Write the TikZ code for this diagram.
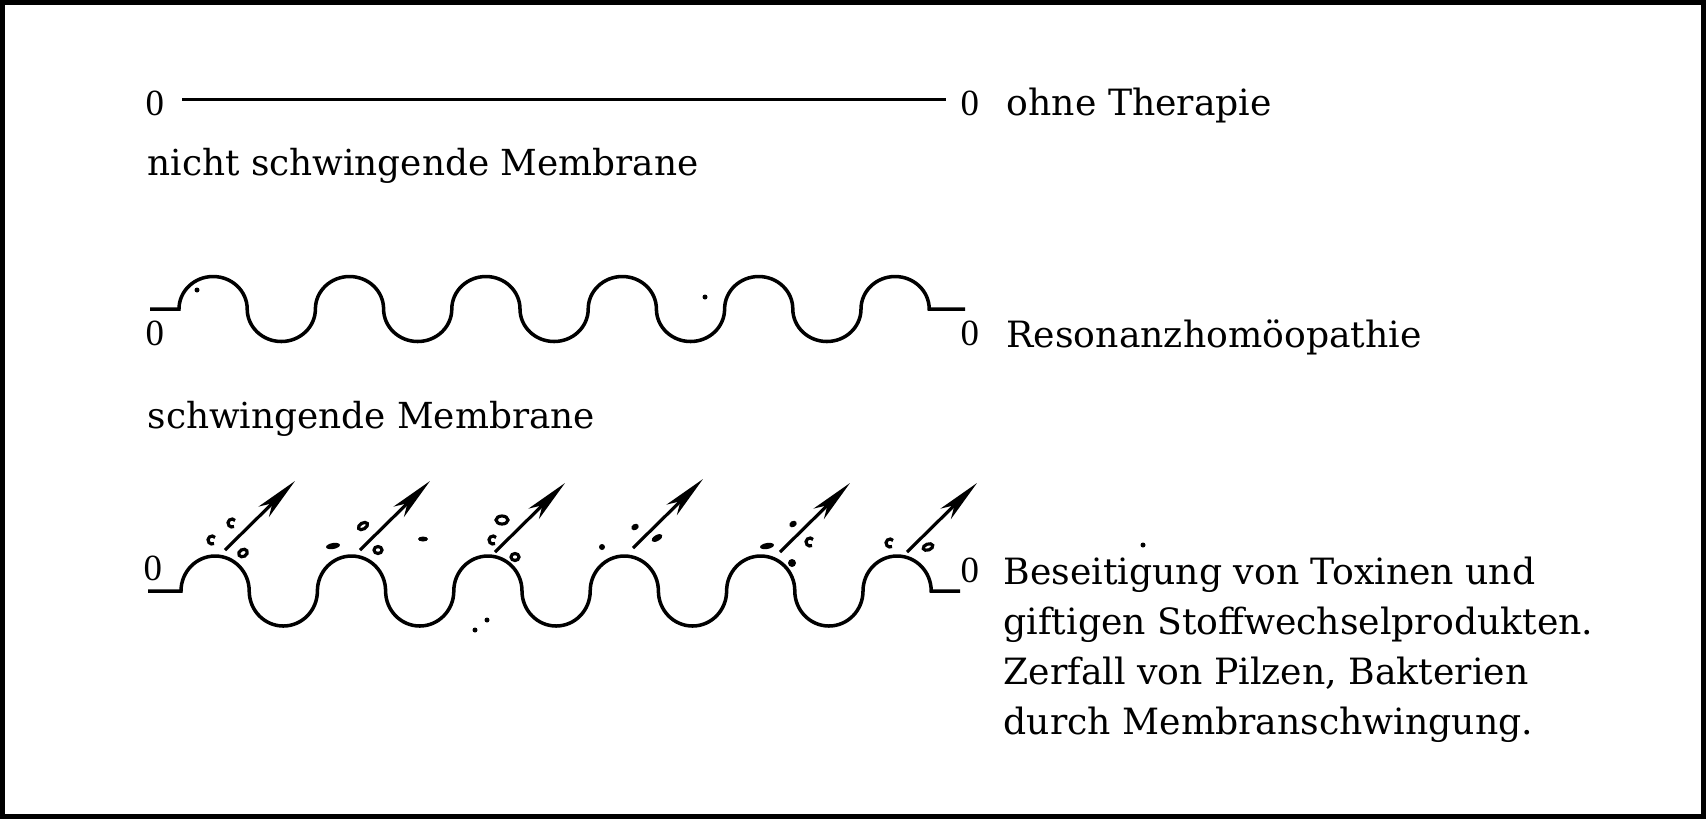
\documentclass[tikz,border=0pt]{standalone}
\usepackage{fontspec}
\setmainfont{DejaVu Serif}
\newfontfamily\zerofont{Liberation Serif}
\usetikzlibrary{arrows.meta}

\begin{document}
\begin{tikzpicture}[
    wave/.style={line width=1pt},
    lbl/.style={anchor=base west, inner sep=0pt, font=\fontsize{10.3}{14.2}\selectfont},
    zero/.style={anchor=base west, inner sep=0pt, font=\zerofont\fontsize{10.5}{12}\selectfont},
    push/.style={line width=0.9pt, -{Stealth[length=12.5pt,width=4.2pt,inset=3.5pt]}},
    ring/.style={line width=0.9pt}
]
\useasboundingbox (0,0) rectangle (17.06,-8.19);
\draw[line width=1.45pt] (0.025,-0.025) rectangle (17.035,-8.165);

% ohne Therapie
\node[zero] (z1l) at (1.45,-1.15) {0};
\node[zero] (z1r) at (9.60,-1.15) {0};
\node[lbl] (t1) at (10.06,-1.15) {ohne Therapie};
\node[lbl, font=\fontsize{10.2}{14}\selectfont] (m1) at (1.47,-1.75) {nicht schwingende Membrane};
\draw[line width=0.9pt, shorten <=5pt, shorten >=4pt] ([yshift=1pt]z1l.east) -- ([yshift=1pt]z1r.west);

% Resonanz
\node[zero] (z2l) at (1.45,-3.45) {0};
\node[zero] (z2r) at (9.60,-3.45) {0};
\node[lbl] (t2) at (10.06,-3.47) {Resonanzhomöopathie};
\node[lbl, font=\fontsize{10.2}{14}\selectfont] (m2) at (1.47,-4.28) {schwingende Membrane};
\draw[wave, x radius=0.341, y radius=0.325] (1.50,-3.09) -- (1.79,-3.09)
    \foreach \k in {1,...,5} {arc[start angle=180, end angle=0] arc[start angle=180, end angle=360]}
    arc[start angle=180, end angle=0] -- (9.65,-3.09);

% Beseitigung
\node[zero] (z3l) at (1.43,-5.80) {0};
\node[zero] (z3r) at (9.60,-5.82) {0};
\node[lbl, align=left] (t3) at (10.03,-7.34) {Beseitigung von Toxinen und\\giftigen Stoffwechselprodukten.\\Zerfall von Pilzen, Bakterien\\durch Membranschwingung.};
\draw[wave, x radius=0.341, y radius=0.35] (1.48,-5.91) -- (1.81,-5.91)
    \foreach \k in {1,...,5} {arc[start angle=180, end angle=0] arc[start angle=180, end angle=360]}
    arc[start angle=180, end angle=0] -- (9.60,-5.91);

\foreach \x/\y [count=\i] in {2.25/-5.50, 3.60/-5.50, 4.95/-5.52, 6.33/-5.48, 7.80/-5.52, 9.07/-5.52} {
    \coordinate (s\i) at (\x,\y);
    \coordinate (h\i) at (\x+0.70,\y+0.69);
    \draw[push] (s\i) -- (h\i);
}

% toxins
\foreach \x/\y in {2.12/-5.40, 2.32/-5.23, 4.93/-5.40, 8.10/-5.42, 8.90/-5.43}
    \draw[ring] (\x,\y) ++(40:0.04) arc[start angle=40, end angle=300, radius=0.04];
\foreach \x/\y/\a/\b/\r in {2.43/-5.53/0.045/0.035/30, 3.63/-5.26/0.05/0.03/30, 3.78/-5.50/0.04/0.035/0, 5.02/-5.20/0.06/0.04/0, 5.15/-5.57/0.04/0.035/0, 9.28/-5.47/0.05/0.03/20}
    \draw[ring, rotate around={\r:(\x,\y)}] (\x,\y) ellipse[x radius=\a, y radius=\b];
\foreach \x/\y/\a/\b/\r in {3.33/-5.46/0.07/0.03/10, 4.23/-5.39/0.05/0.025/0, 6.02/-5.47/0.03/0.03/0, 6.35/-5.27/0.04/0.03/30, 6.57/-5.38/0.06/0.03/30, 7.67/-5.46/0.07/0.03/10, 7.93/-5.24/0.04/0.03/30, 7.92/-5.63/0.04/0.04/0}
    \fill[rotate around={\r:(\x,\y)}] (\x,\y) ellipse[x radius=\a, y radius=\b];
\foreach \x/\y in {1.97/-2.90, 7.05/-2.97, 4.75/-6.30, 4.87/-6.20, 11.43/-5.45}
    \fill (\x,\y) circle[radius=0.025];
\end{tikzpicture}
\end{document}
